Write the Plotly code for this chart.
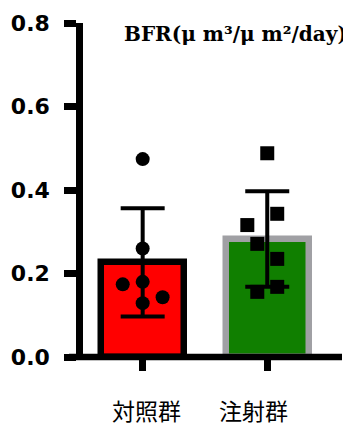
import numpy as np
import plotly.graph_objects as go

# ---- data ----
categories = ["対照群", "注射群"]
control_values = [0.474, 0.260, 0.174, 0.180, 0.143, 0.129]
injection_values = [0.488, 0.343, 0.316, 0.271, 0.235, 0.156, 0.168]
y_tick_values = [0.0, 0.2, 0.4, 0.6, 0.8]
y_tick_labels = ["0.0", "0.2", "0.4", "0.6", "0.8"]
title_text = "BFR(μ m³/μ m²/day)"

# horizontal scatter offsets of individual points (layout only)
control_jitter = [0.0, 0.0, -0.16, 0.0, 0.16, 0.0]
injection_jitter = [0.0, 0.08, -0.16, -0.08, 0.08, -0.08, 0.08]

groups = [control_values, injection_values]
means = [float(np.mean(g)) for g in groups]
sds = [float(np.std(g, ddof=1)) for g in groups]
xpos = list(range(len(categories)))

# page body has an 8px default margin; size the figure to fit the window
OFF = 8
W, H = 351 - OFF, 423 - OFF
ML, MR, MT, MB = 83 - OFF, 9, 23 - OFF, 66
pw = W - ML - MR
ph = H - MT - MB

fig = go.Figure()

fig.add_trace(go.Bar(
    x=xpos, y=means, width=0.67,
    marker=dict(color=["#FF0000", "#107F00"],
                line=dict(color=["#000000", "#A0A0A4"], width=6.5)),
    error_y=dict(type="data", array=sds, visible=True, color="black",
                 thickness=4, width=22),
    showlegend=False, hoverinfo="skip",
))

fig.add_trace(go.Scatter(
    x=[xpos[0] + j for j in control_jitter], y=control_values,
    mode="markers", marker=dict(symbol="circle", size=14, color="black"),
    showlegend=False,
))
fig.add_trace(go.Scatter(
    x=[xpos[1] + j for j in injection_jitter], y=injection_values,
    mode="markers", marker=dict(symbol="square", size=14, color="black"),
    showlegend=False,
))

# x-axis baseline extended to the left as in the original
fig.add_shape(type="line", xref="paper", yref="paper", x0=-14 / pw, x1=1.0,
              y0=0, y1=0, line=dict(color="black", width=6.5), layer="above")

label_shifts = [4, -14]
for x, lab, sh in zip(xpos, categories, label_shifts):
    fig.add_annotation(x=x, y=0, xref="x", yref="paper", yanchor="middle",
                       yshift=-53, xshift=sh, text=lab, showarrow=False,
                       font=dict(family="Noto Sans CJK JP", size=23, color="black"))

fig.add_annotation(x=(122 - OFF - ML) / pw, y=(ph - (34 - OFF - MT)) / ph,
                   xref="paper", yref="paper", text=title_text,
                   showarrow=False, xanchor="left", yanchor="middle",
                   font=dict(family="DejaVu Serif", size=20, color="black", weight="bold"))

fig.update_layout(
    width=W, height=H,
    margin=dict(l=ML, r=MR, t=MT, b=MB, autoexpand=False),
    plot_bgcolor="white", paper_bgcolor="white",
    bargap=0,
    xaxis=dict(range=[-0.479, 1.6], tickvals=xpos, ticktext=["", ""],
               showgrid=False, zeroline=False, showline=False, automargin=False,
               ticks="outside", ticklen=13, tickwidth=6.5, tickcolor="black"),
    yaxis=dict(range=[0, 0.8], tickvals=y_tick_values, ticktext=y_tick_labels,
               showgrid=False, zeroline=False, showline=True, linecolor="black",
               linewidth=6.5, ticks="outside", ticklen=12, tickwidth=6.5,
               tickcolor="black", ticklabelstandoff=10, automargin=False,
               tickfont=dict(family="DejaVu Sans", size=22, color="black", weight="bold")),
)

fig.write_html("out.html")
